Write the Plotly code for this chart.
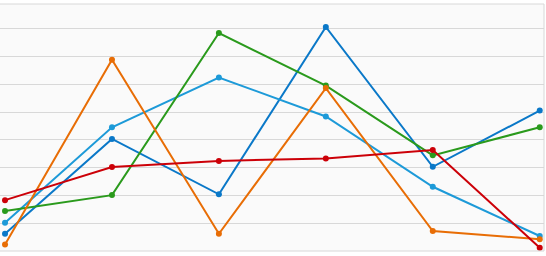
import plotly.graph_objects as go

categories = [0, 1, 2, 3, 4, 5]
series_names = ["Blue", "Light blue", "Green", "Orange", "Red"]
blue = [6.2, 40.3, 20.4, 80.6, 30.3, 50.5]
light_blue = [10.2, 44.5, 62.4, 48.4, 23.1, 5.4]
green = [14.4, 20.1, 78.4, 59.5, 34.4, 44.5]
orange = [2.3, 68.8, 6.2, 58.6, 7.2, 4.2]
red = [18.3, 30.2, 32.4, 33.3, 36.3, 1.2]
colors = ["#0a78c8", "#1d9ad8", "#2a9a1c", "#e86d05", "#cc0008"]

fig = go.Figure()
for name, vals, col in zip(series_names, [blue, light_blue, green, orange, red], colors):
    fig.add_trace(go.Scatter(
        x=categories, y=vals, mode="lines+markers", name=name,
        line=dict(color=col, width=2), marker=dict(color=col, size=6),
    ))

fig.update_layout(
    width=546, height=256,
    margin=dict(l=0, r=2, t=4, b=5),
    paper_bgcolor="#ffffff", plot_bgcolor="#fafafa",
    showlegend=False,
    xaxis=dict(range=[-0.047, 5.04], showgrid=False, zeroline=False,
               showticklabels=False, ticks=""),
    yaxis=dict(range=[0, 88.85], dtick=10, showgrid=True, gridcolor="#d8d8d8",
               gridwidth=1, zeroline=False, showticklabels=False, ticks=""),
    shapes=[
        dict(type="line", xref="paper", yref="paper", x0=0, x1=1, y0=1, y1=1,
             line=dict(color="#d8d8d8", width=1)),
        dict(type="line", xref="paper", yref="paper", x0=1, x1=1, y0=0, y1=1,
             line=dict(color="#d8d8d8", width=1)),
        dict(type="line", xref="paper", yref="paper", x0=0, x1=1, y0=0, y1=0,
             line=dict(color="#d8d8d8", width=1)),
    ],
)
fig.write_html("out.html")
